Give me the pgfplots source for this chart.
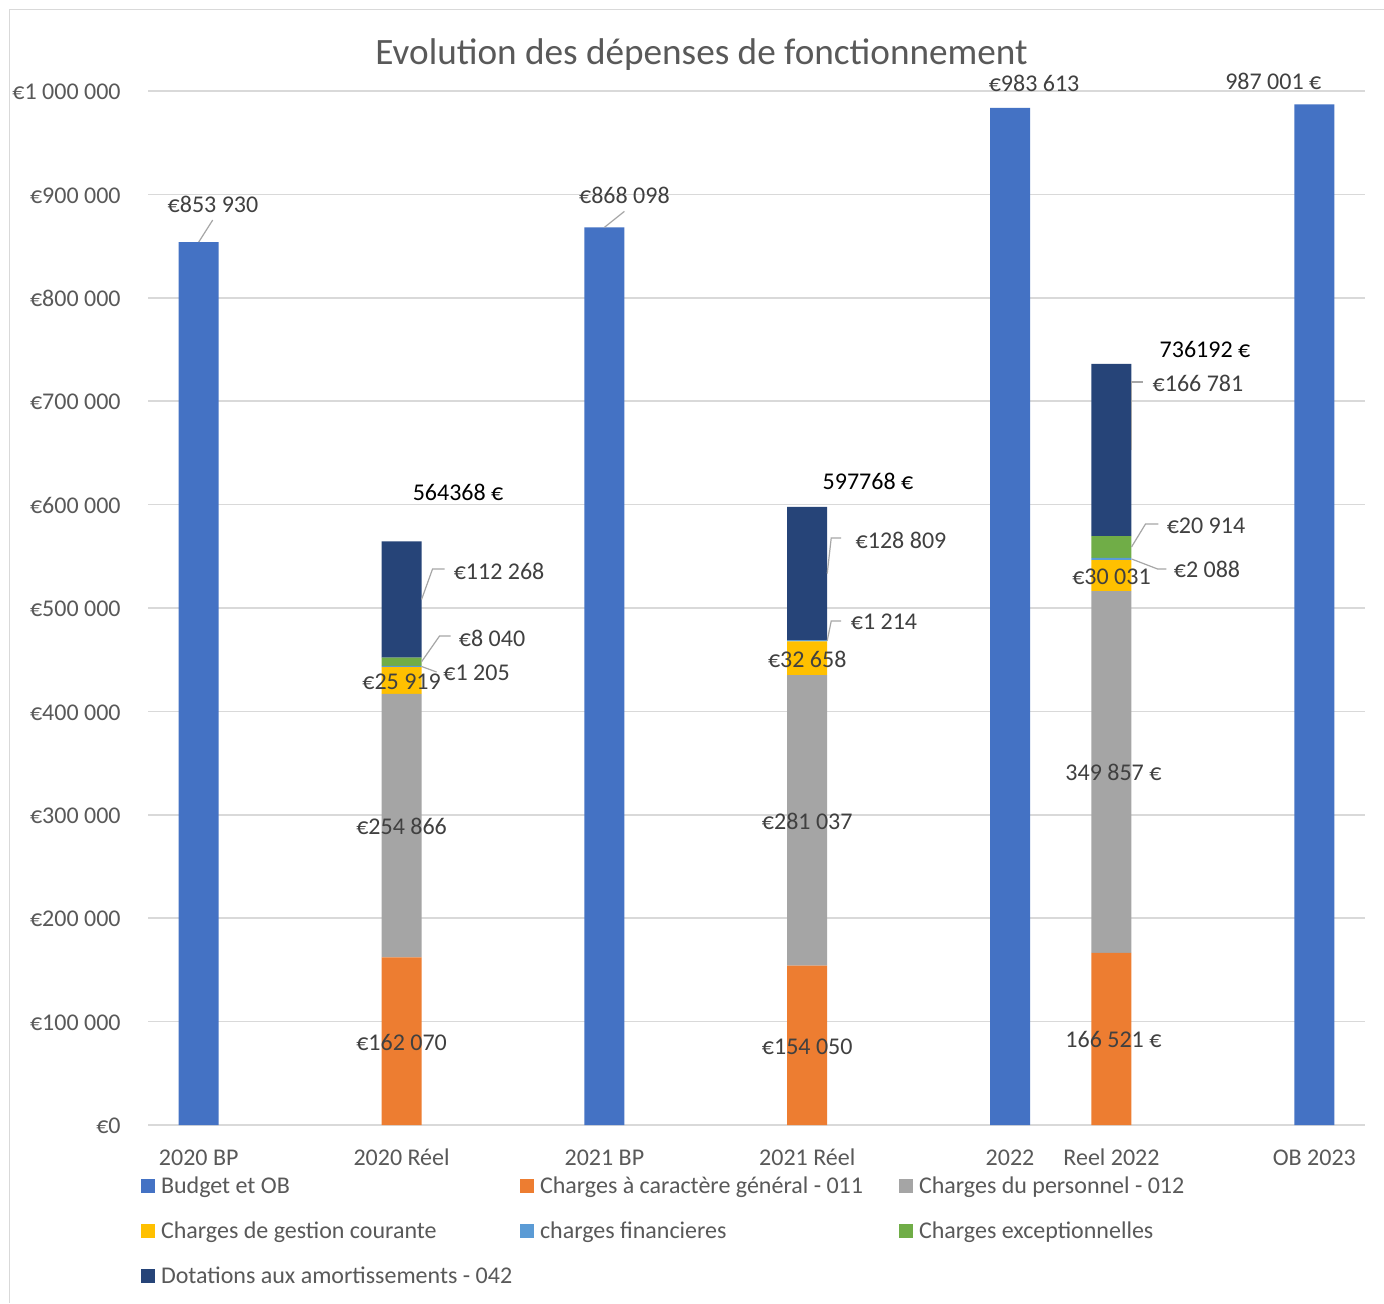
\documentclass[border=0pt]{standalone}
\usepackage{pgfplots}
\pgfplotsset{compat=1.18}
\usepackage{pgfplotstable}
\usepackage{fontspec}
\setmainfont{Carlito}

\definecolor{cBudget}{HTML}{4472C4}
\definecolor{cGen}{HTML}{ED7D31}
\definecolor{cPers}{HTML}{A5A5A5}
\definecolor{cGest}{HTML}{FFC000}
\definecolor{cFin}{HTML}{5B9BD5}
\definecolor{cExc}{HTML}{70AD47}
\definecolor{cDot}{HTML}{264478}
\definecolor{cGrid}{HTML}{D9D9D9}
\definecolor{cTick}{HTML}{595959}
\definecolor{cLab}{HTML}{404040}
\definecolor{cLead}{HTML}{A6A6A6}

% one row per bar slot; budget bars and the stacked "réel" bars share the axis
\pgfplotstableread{
x   budget  gen     pers    gest   fin   exc    dot
0   853930  0       0       0      0     0      0
2   0       162070  254866  25919  1205  8040   112268
4   868098  0       0       0      0     0      0
6   0       154050  281037  32658  1214  0      128809
8   983613  0       0       0      0     0      0
9   0       166521  349857  30031  2088  20914  166781
11  987001  0       0       0      0     0      0
}\depenses

\pgfplotsset{
  leg/.style={legend image code/.code={%
      \fill[##1] (0pt,-3.5pt) rectangle (7pt,3.5pt);
      \path (10pt,0pt);}},
}

\tikzset{
  lab/.style={font=\fontsize{12}{14}\selectfont, text=cLab, inner sep=0pt,
              text height=7.6pt, text depth=0pt, anchor=center, yshift=-0.7pt},
  tot/.style={lab, text=black},
  leader/.style={draw=cLead, line width=0.6pt},
}

\begin{document}
\begin{tikzpicture}
\path[use as bounding box, fill=white] (0pt,0pt) rectangle (692pt,-651.5pt);
\draw[cGrid, line width=0.8pt] (4.75pt,-651.5pt) -- (4.75pt,-4.75pt) -- (692pt,-4.75pt);

\begin{axis}[
  at={(74pt,-562.5pt)}, anchor=south west,
  scale only axis, width=608.5pt, height=517pt,
  ybar stacked, bar width=20pt,
  xmin=-0.5, xmax=11.5, ymin=0, ymax=1000000,
  clip=false,
  axis line style={draw=none},
  major tick length=0pt,
  ymajorgrids, major grid style={cGrid, line width=0.8pt},
  xtick={0,2,4,6,8,9,11},
  xticklabels={2020 BP,2020 Réel,2021 BP,2021 Réel,2022,Reel 2022,OB 2023},
  ytick={0,100000,200000,300000,400000,500000,600000,700000,800000,900000,1000000},
  yticklabels={€0,€100 000,€200 000,€300 000,€400 000,€500 000,€600 000,€700 000,€800 000,€900 000,€1 000 000},
  scaled y ticks=false,
  tick label style={font=\fontsize{12}{14}\selectfont, text=cTick, inner sep=0pt,
                    text height=7.6pt, text depth=0pt},
  yticklabel style={anchor=east, xshift=-13.5pt, yshift=-0.5pt},
  xticklabel style={anchor=north, yshift=-12.5pt},
  legend columns=3,
  legend cell align=left,
  legend style={at={(-0.00575,-0.0516)}, anchor=north west,
                draw=none, fill=none, inner sep=0pt, outer sep=0pt,
                column sep=0pt, row sep=14.9pt,
                nodes={inner sep=0pt, text height=7.6pt, text depth=0pt,
                       font=\fontsize{12}{14}\selectfont, text=cTick}},
]
\addplot[fill=cBudget, draw=none, leg] table[x=x, y=budget] {\depenses};
\addlegendentry{\makebox[179.5pt][l]{Budget et OB}}
\addplot[fill=cGen, draw=none, leg] table[x=x, y=gen] {\depenses};
\addlegendentry{\makebox[179.5pt][l]{Charges à caractère général - 011}}
\addplot[fill=cPers, draw=none, leg] table[x=x, y=pers] {\depenses};
\addlegendentry{Charges du personnel - 012}
\addplot[fill=cGest, draw=none, leg] table[x=x, y=gest] {\depenses};
\addlegendentry{\makebox[179.5pt][l]{Charges de gestion courante}}
\addplot[fill=cFin, draw=none, leg] table[x=x, y=fin] {\depenses};
\addlegendentry{\makebox[179.5pt][l]{charges financieres}}
\addplot[fill=cExc, draw=none, leg] table[x=x, y=exc] {\depenses};
\addlegendentry{Charges exceptionnelles}
\addplot[fill=cDot, draw=none, leg] table[x=x, y=dot] {\depenses};
\addlegendentry{Dotations aux amortissements - 042}

% anchor points for the data labels (bar tops and segment middles)
\coordinate (bp20) at (axis cs:0,853930);
\coordinate (bp21) at (axis cs:4,868098);
\coordinate (bp22) at (axis cs:8,983613);
\coordinate (ob23) at (axis cs:11,987001);
\coordinate (r20a) at (axis cs:2,81035);
\coordinate (r20b) at (axis cs:2,289503);
\coordinate (r20c) at (axis cs:2,429896);
\coordinate (r20d) at (axis cs:2,443457);
\coordinate (r20e) at (axis cs:2,448080);
\coordinate (r20f) at (axis cs:2,508234);
\coordinate (r20t) at (axis cs:2,564368);
\coordinate (r21a) at (axis cs:6,77025);
\coordinate (r21b) at (axis cs:6,294568);
\coordinate (r21c) at (axis cs:6,451416);
\coordinate (r21d) at (axis cs:6,468352);
\coordinate (r21f) at (axis cs:6,533363);
\coordinate (r21t) at (axis cs:6,597768);
\coordinate (r22a) at (axis cs:9,83260);
\coordinate (r22b) at (axis cs:9,341449);
\coordinate (r22c) at (axis cs:9,531393);
\coordinate (r22d) at (axis cs:9,547453);
\coordinate (r22e) at (axis cs:9,558954);
\coordinate (r22f) at (axis cs:9,652801);
\coordinate (r22t) at (axis cs:9,736192);
\end{axis}

% budget labels
\draw[leader] (bp20) -- ++(7pt,11pt);
\node[lab] at ([xshift=7.15pt,yshift=19.5pt]bp20) {€853 930};
\draw[leader] (bp21) -- ++(10pt,8pt);
\node[lab] at ([xshift=10pt,yshift=16.5pt]bp21) {€868 098};
\node[lab] at ([xshift=12pt,yshift=12.5pt]bp22) {€983 613};
\node[lab] at ([xshift=-20.5pt,yshift=12.2pt]ob23) {987 001 €};

% 2020 réel
\node[lab] at (r20a) {€162 070};
\node[lab] at (r20b) {€254 866};
\node[lab] at (r20c) {€25 919};
\draw[leader] ([xshift=10pt]r20d) -- ++(7.5pt,-2.75pt);
\node[lab] at ([xshift=37.5pt,yshift=-2.75pt]r20d) {€1 205};
\draw[leader] ([xshift=10pt]r20e) -- ++(9pt,12.85pt) -- ++(5.5pt,0pt);
\node[lab] at ([xshift=45.25pt,yshift=12.35pt]r20e) {€8 040};
\draw[leader] ([xshift=10pt]r20f) -- ++(5.5pt,15.25pt) -- ++(6pt,0pt);
\node[lab] at ([xshift=48.75pt,yshift=14.75pt]r20f) {€112 268};
\node[tot] at ([xshift=28.25pt,yshift=25.2pt]r20t) {564368 €};

% 2021 réel
\node[lab] at (r21a) {€154 050};
\node[lab] at (r21b) {€281 037};
\node[lab] at (r21c) {€32 658};
\draw[leader] ([xshift=10pt]r21d) -- ++(2pt,9.85pt) -- ++(5pt,0pt);
\node[lab] at ([xshift=38.4pt,yshift=10.35pt]r21d) {€1 214};
\draw[leader] ([xshift=10pt]r21f) -- ++(2pt,17.75pt) -- ++(5pt,0pt);
\node[lab] at ([xshift=46.9pt,yshift=17.25pt]r21f) {€128 809};
\node[tot] at ([xshift=30.4pt,yshift=13.45pt]r21t) {597768 €};

% réel 2022
\node[lab] at ([xshift=1pt]r22a) {166 521 €};
\node[lab] at ([xshift=1pt]r22b) {349 857 €};
\node[lab] at (r22c) {€30 031};
\draw[leader] ([xshift=10pt]r22d) -- ++(13pt,-5pt) -- ++(4.5pt,0pt);
\node[lab] at ([xshift=47.75pt,yshift=-5pt]r22d) {€2 088};
\draw[leader] ([xshift=10pt]r22e) -- ++(7pt,11.5pt) -- ++(6.5pt,0pt);
\node[lab] at ([xshift=47.25pt,yshift=11.5pt]r22e) {€20 914};
\draw[leader] ([xshift=10pt]r22f) -- ++(0pt,34pt) -- ++(6pt,0pt);
\node[lab] at ([xshift=43.25pt,yshift=34pt]r22f) {€166 781};
\node[tot] at ([xshift=46.75pt,yshift=7.4pt]r22t) {736192 €};

\node[anchor=base, font=\fontsize{18.6}{22}\selectfont, text=cTick, inner sep=0pt]
  at (350.75pt,-32pt) {Evolution des dépenses de fonctionnement};
\end{tikzpicture}
\end{document}
